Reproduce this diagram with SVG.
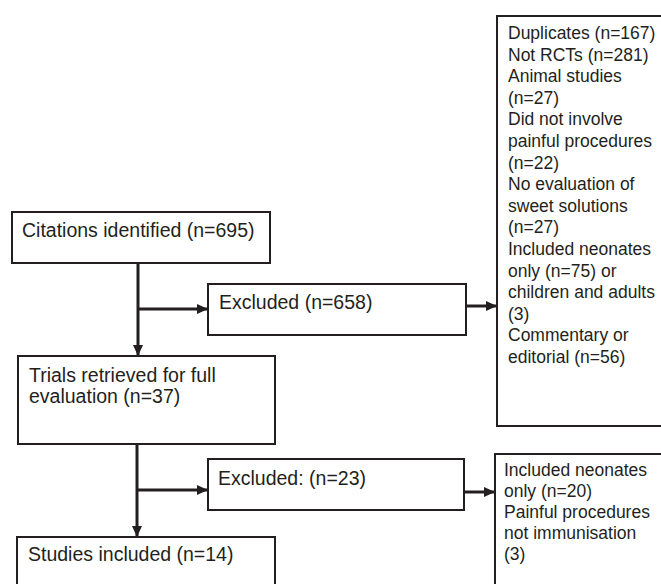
<svg xmlns="http://www.w3.org/2000/svg" width="661" height="584" viewBox="0 0 661 584">
<style>
.box{fill:#fff;stroke:#231f20;stroke-width:2}
.t{font-family:"Liberation Sans",Arial,sans-serif;font-size:19.5px;fill:#231f20}
.s{font-family:"Liberation Sans",Arial,sans-serif;font-size:17.5px;fill:#231f20}
.c{fill:none;stroke:#231f20;stroke-width:3}
</style>
<defs>
<marker id="ah" viewBox="0 0 11 10" refX="11" refY="5" markerWidth="11" markerHeight="10" markerUnits="userSpaceOnUse" orient="auto">
<path d="M0,0 L11,5 L0,10 Z" fill="#231f20"/>
</marker>
</defs>
<rect width="661" height="584" fill="#fff"/>
<g id="connectors">
<line class="c" x1="138" y1="263" x2="138" y2="356" marker-end="url(#ah)"/>
<line class="c" x1="138" y1="309" x2="208" y2="309" marker-end="url(#ah)"/>
<line class="c" x1="466" y1="306" x2="497" y2="306" marker-end="url(#ah)"/>
<line class="c" x1="137" y1="444" x2="137" y2="537" marker-end="url(#ah)"/>
<line class="c" x1="137" y1="490" x2="208" y2="490" marker-end="url(#ah)"/>
<line class="c" x1="464" y1="492" x2="495" y2="492" marker-end="url(#ah)"/>
</g>
<g id="citations">
<rect class="box" x="12" y="212" width="258" height="51"/>
<text class="t" x="22" y="237">Citations identified (n=695)</text>
</g>
<g id="excluded1">
<rect class="box" x="208" y="284" width="258" height="51"/>
<text class="t" x="219" y="309">Excluded (n=658)</text>
</g>
<g id="reasons1">
<rect class="box" x="497" y="16" width="180" height="410"/>
<text class="s" x="508" y="39">Duplicates (n=167)</text>
<text class="s" x="508" y="60.6">Not RCTs (n=281)</text>
<text class="s" x="508" y="82.2">Animal studies</text>
<text class="s" x="508" y="103.8">(n=27)</text>
<text class="s" x="508" y="125.4">Did not involve</text>
<text class="s" x="508" y="147">painful procedures</text>
<text class="s" x="508" y="168.6">(n=22)</text>
<text class="s" x="508" y="190.2">No evaluation of</text>
<text class="s" x="508" y="211.8">sweet solutions</text>
<text class="s" x="508" y="233.4">(n=27)</text>
<text class="s" x="508" y="255">Included neonates</text>
<text class="s" x="508" y="276.6">only (n=75) or</text>
<text class="s" x="508" y="298.2">children and adults</text>
<text class="s" x="508" y="319.8">(3)</text>
<text class="s" x="508" y="341.4">Commentary or</text>
<text class="s" x="508" y="363">editorial (n=56)</text>
</g>
<g id="trials">
<rect class="box" x="18" y="356" width="257" height="88"/>
<text class="t" x="29" y="382">Trials retrieved for full</text>
<text class="t" x="29" y="403">evaluation (n=37)</text>
</g>
<g id="excluded2">
<rect class="box" x="208" y="459" width="256" height="51"/>
<text class="t" x="218" y="485">Excluded: (n=23)</text>
</g>
<g id="reasons2">
<rect class="box" x="495" y="454" width="180" height="160"/>
<text class="s" x="504" y="476">Included neonates</text>
<text class="s" x="504" y="497">only (n=20)</text>
<text class="s" x="504" y="518">Painful procedures</text>
<text class="s" x="504" y="539">not immunisation</text>
<text class="s" x="504" y="560">(3)</text>
</g>
<g id="studies">
<rect class="box" x="17" y="537" width="258" height="70"/>
<text class="t" x="28" y="561">Studies included (n=14)</text>
</g>
</svg>
